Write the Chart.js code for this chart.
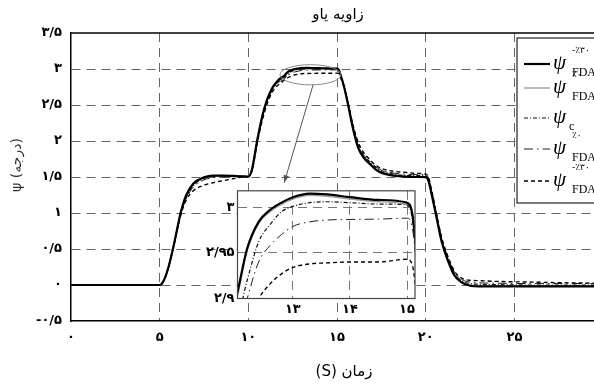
<!DOCTYPE html>
<html><head><meta charset="utf-8">
<script src="https://cdn.jsdelivr.net/npm/chart.js@4"></script>
<style>
html,body{margin:0;padding:0;background:#fff;overflow:hidden;}
#wrap{position:relative;width:620px;height:385px;overflow:hidden;}
#main{position:absolute;left:0;top:0;}
#inset{position:absolute;left:195px;top:180px;}
</style></head><body>
<div id="wrap">
<canvas id="main" width="620" height="385"></canvas>
<canvas id="inset" width="225" height="140"></canvas>
</div>
<script>
// ---- data (time in s, yaw angle in degrees) ----
const times = [0,5,5.1,5.3,5.5,5.8,6.2,6.5,6.9,7.5, 8,8.6,9.2,9.7,10,10.2,10.5,10.8,11.05,11.33, 11.6,11.8,12,12.2,12.4,12.6,12.8,13,13.3,13.6, 14,14.5,15,15.1,15.2,15.4,15.65,15.9,16.2,16.5, 16.85,17.2,17.6,18.2,18.8,19.5,20,20.15,20.35,20.6, 20.9,21.25,21.6,22,22.5,23,24,26,28,30];
const psiFdaM30Solid = [0,0,0.01,0.1,0.25,0.56,1.02,1.25,1.41,1.495, 1.52,1.52,1.515,1.51,1.505,1.6,2.01,2.36,2.57,2.73, 2.82,2.87,2.9,2.955,2.984,2.997,3.005,3.011,3.015,3.014, 3.011,3.008,3.005,2.99,2.92,2.75,2.47,2.17,1.9,1.77, 1.68,1.6,1.55,1.52,1.505,1.5,1.497,1.45,1.24,0.95, 0.6,0.34,0.14,0.04,-0.01,-0.02,-0.02,-0.02,-0.02,-0.02];
const psiFda0Solid = [0,0,0.01,0.1,0.25,0.56,1.01,1.24,1.4,1.49, 1.515,1.515,1.512,1.508,1.505,1.6,2.0,2.35,2.56,2.72, 2.81,2.865,2.895,2.952,2.982,2.995,3.003,3.009,3.013,3.012, 3.009,3.006,3.003,2.988,2.92,2.75,2.48,2.18,1.91,1.78, 1.69,1.61,1.56,1.525,1.51,1.505,1.5,1.455,1.25,0.96, 0.61,0.35,0.15,0.045,0,-0.01,-0.01,-0.01,-0.01,-0.01];
const psiC = [0,0,0.01,0.1,0.25,0.55,1.0,1.22,1.38,1.48, 1.51,1.515,1.512,1.508,1.505,1.6,2.0,2.34,2.55,2.71, 2.8,2.85,2.87,2.92,2.962,2.981,2.995,3.001,3.005,3.006, 3.005,3.0035,3.0025,2.985,2.92,2.76,2.49,2.2,1.94,1.8, 1.71,1.63,1.58,1.54,1.525,1.52,1.515,1.47,1.27,0.98, 0.63,0.37,0.17,0.06,0.02,0.01,0.005,0,0,0];
const psiFda0DashDot = [0,0,0.01,0.1,0.25,0.55,0.99,1.2,1.36,1.46, 1.49,1.5,1.505,1.505,1.505,1.6,2.0,2.33,2.54,2.7, 2.79,2.83,2.855,2.9,2.94,2.958,2.97,2.979,2.984,2.986, 2.9866,2.987,2.988,2.975,2.91,2.76,2.5,2.21,1.95,1.81, 1.72,1.64,1.59,1.555,1.54,1.535,1.53,1.49,1.29,1.0, 0.65,0.39,0.19,0.08,0.04,0.03,0.025,0.02,0.02,0.02];
const psiFdaM30Dashed = [0,0,0.01,0.1,0.25,0.55,0.98,1.18,1.31,1.385, 1.42,1.45,1.48,1.5,1.505,1.58,1.97,2.3,2.51,2.67, 2.76,2.8,2.84,2.875,2.9,2.916,2.927,2.934,2.938,2.939, 2.94,2.94,2.943,2.935,2.88,2.74,2.5,2.22,1.98,1.84, 1.74,1.66,1.61,1.58,1.565,1.55,1.54,1.5,1.3,1.0, 0.66,0.4,0.2,0.1,0.065,0.06,0.05,0.04,0.03,0.025];

const legendSup = ['-٪۳۰','٪۰','','٪۰','-٪۳۰'];
const legendSub = ['FDA','FDA','c','FDA','FDA'];

const xTicks = [0,5,10,15,20,25,30];
const xTickLabels = ['۰','۵','۱۰','۱۵','۲۰','۲۵','۳۰'];
const yTicks = [-0.5,0,0.5,1,1.5,2,2.5,3,3.5];
const yTickLabels = ['-۰/۵','۰','۰/۵','۱','۱/۵','۲','۲/۵','۳','۳/۵'];
const insetXTicks = [13,14,15];
const insetXTickLabels = ['۱۳','۱۴','۱۵'];
const insetYTicks = [2.9,2.95,3];
const insetYTickLabels = ['۲/۹','۲/۹۵','۳'];

const chartTitle = 'زاویه یاو';
const xTitle = 'زمان (S)';
const yTitle = 'ψ (درجه)';

// zoom annotation (data units)
const zoomEllipse = {x: 13.5, y: 2.92, rx: 1.72, ry: 0.14};
const zoomArrow = {x0: 13.65, y0: 2.78, x1: 12.02, y1: 1.42};

const pts = arr => arr.map((v,i)=>({x: times[i], y: v}));
const tickFont = {family:'DejaVu Sans', size:13, weight:'bold'};

function makeDatasets(clip){
  return [
    {label:'psiFdaM30Solid', data:pts(psiFdaM30Solid), borderColor:'#000', borderWidth:2.2, borderDash:[], order:0},
    {label:'psiFda0Solid', data:pts(psiFda0Solid), borderColor:'#9a9a9a', borderWidth:1.3, borderDash:[], order:4},
    {label:'psiC', data:pts(psiC), borderColor:'#111', borderWidth:1.2, borderDash:[4,2,1,2], order:2},
    {label:'psiFda0DashDot', data:pts(psiFda0DashDot), borderColor:'#222', borderWidth:1.0, borderDash:[9,4,1.5,4], order:3},
    {label:'psiFdaM30Dashed', data:pts(psiFdaM30Dashed), borderColor:'#000', borderWidth:1.4, borderDash:[4,3], order:1}
  ].map(d=>Object.assign(d,{pointRadius:0, fill:false, cubicInterpolationMode:'monotone', clip:clip}));
}

const mainDecor = {
  id:'mainDecor',
  afterDatasetsDraw(chart){
    const ctx = chart.ctx, xs = chart.scales.x, ys = chart.scales.y, a = chart.chartArea;
    ctx.save();
    ctx.strokeStyle = '#000'; ctx.lineWidth = 1.5;
    ctx.beginPath(); ctx.moveTo(a.left, a.top); ctx.lineTo(a.right, a.top); ctx.stroke();
    const cx = xs.getPixelForValue(zoomEllipse.x), cy = ys.getPixelForValue(zoomEllipse.y);
    const rx = xs.getPixelForValue(zoomEllipse.x + zoomEllipse.rx) - cx;
    const ry = cy - ys.getPixelForValue(zoomEllipse.y + zoomEllipse.ry);
    ctx.strokeStyle = '#8a8a8a'; ctx.lineWidth = 1;
    ctx.beginPath(); ctx.ellipse(cx, cy, rx, ry, 0, 0, Math.PI*2); ctx.stroke();
    const x0 = xs.getPixelForValue(zoomArrow.x0), y0 = ys.getPixelForValue(zoomArrow.y0);
    const x1 = xs.getPixelForValue(zoomArrow.x1), y1 = ys.getPixelForValue(zoomArrow.y1);
    ctx.strokeStyle = '#555';
    ctx.beginPath(); ctx.moveTo(x0,y0); ctx.lineTo(x1,y1); ctx.stroke();
    const ang = Math.atan2(y1-y0, x1-x0), L = 8, W = 0.35;
    ctx.fillStyle = '#555';
    ctx.beginPath(); ctx.moveTo(x1,y1);
    ctx.lineTo(x1 - L*Math.cos(ang-W), y1 - L*Math.sin(ang-W));
    ctx.lineTo(x1 - L*Math.cos(ang+W), y1 - L*Math.sin(ang+W));
    ctx.closePath(); ctx.fill();
    ctx.restore();
  },
  afterDraw(chart){
    const ctx = chart.ctx;
    ctx.save();
    ctx.fillStyle = '#000';
    ctx.direction = 'rtl';
    ctx.textAlign = 'center'; ctx.textBaseline = 'middle';
    ctx.font = '15px "DejaVu Sans"';
    ctx.fillText(chartTitle, 338, 15);
    ctx.fillText(xTitle, 344, 372);
    ctx.direction = 'ltr';
    ctx.save();
    ctx.translate(17, 165); ctx.rotate(-Math.PI/2);
    ctx.fillStyle = '#333';
    ctx.font = '14px "DejaVu Sans"';
    ctx.fillText(yTitle, 0, 0);
    ctx.restore();
    // legend
    const bx = 517, by = 38, bw = 120, bh = 165;
    ctx.fillStyle = '#fff'; ctx.fillRect(bx, by, bw, bh);
    ctx.strokeStyle = '#222'; ctx.lineWidth = 1.2; ctx.strokeRect(bx, by, bw, bh);
    const rowY = [64, 88, 118, 149, 181];
    [0,1,2,3,4].forEach((di, k) => {
      const ds = chart.data.datasets[di];
      const y = rowY[k];
      ctx.strokeStyle = ds.borderColor; ctx.lineWidth = ds.borderWidth;
      ctx.setLineDash(ds.borderDash || []);
      ctx.beginPath(); ctx.moveTo(524, y); ctx.lineTo(550, y); ctx.stroke();
      ctx.setLineDash([]);
      ctx.fillStyle = '#000';
      ctx.textAlign = 'left'; ctx.textBaseline = 'middle';
      ctx.font = 'italic 21px "Liberation Serif"';
      ctx.fillText('ψ', 553, y - 1);
      if (legendSup[k]) { ctx.font = '9px "DejaVu Sans"'; ctx.fillText(legendSup[k], 572, y - 13); }
      ctx.font = '12px "Liberation Serif"';
      if (legendSub[k] === 'c') ctx.fillText(legendSub[k], 569, y + 9);
      else ctx.fillText(legendSub[k], 572, y + 9);
    });
    ctx.restore();
  }
};

new Chart(document.getElementById('main'), {
  type:'line',
  data:{datasets: makeDatasets(false)},
  options:{
    responsive:false, animation:false, devicePixelRatio:1,
    layout:{padding:{top:33, right:4, left:0, bottom:0}},
    plugins:{legend:{display:false}, tooltip:{enabled:false}, title:{display:false}},
    scales:{
      x:{type:'linear', min:0, max:30,
        afterBuildTicks:s=>{s.ticks = xTicks.map(v=>({value:v}));},
        afterFit:s=>{s.height = 64;},
        ticks:{callback:v=>xTickLabels[xTicks.indexOf(v)], font:tickFont, color:'#000', padding:9, maxRotation:0, autoSkip:false},
        grid:{color:c=>(c.tick && (c.tick.value===0 || c.tick.value===30)) ? 'rgba(0,0,0,0)' : '#666', lineWidth:1, drawTicks:false},
        border:{display:true, color:'#000', width:1.5, dash:[9,6]}
      },
      y:{type:'linear', min:-0.5, max:3.5,
        afterBuildTicks:s=>{s.ticks = yTicks.map(v=>({value:v}));},
        afterFit:s=>{s.width = 71;},
        ticks:{callback:v=>yTickLabels[yTicks.indexOf(v)], font:tickFont, color:'#000', padding:9, autoSkip:false},
        grid:{color:c=>(c.tick && (c.tick.value===-0.5 || c.tick.value===3.5)) ? 'rgba(0,0,0,0)' : '#666', lineWidth:1, drawTicks:false},
        border:{display:true, color:'#000', width:1.5, dash:[9,6]}
      }
    }
  },
  plugins:[mainDecor]
});

const insetDecor = {
  id:'insetDecor',
  beforeDraw(chart){
    const a = chart.chartArea, ctx = chart.ctx;
    ctx.save(); ctx.fillStyle = '#fff'; ctx.fillRect(a.left, a.top, a.right-a.left, a.bottom-a.top); ctx.restore();
  },
  afterDraw(chart){
    const a = chart.chartArea, ctx = chart.ctx;
    ctx.save(); ctx.strokeStyle = '#444'; ctx.lineWidth = 1.2;
    ctx.strokeRect(a.left, a.top, a.right-a.left, a.bottom-a.top); ctx.restore();
  }
};

new Chart(document.getElementById('inset'), {
  type:'line',
  data:{datasets: makeDatasets(0)},
  options:{
    responsive:false, animation:false, devicePixelRatio:1,
    layout:{padding:{top:6, right:5, left:0, bottom:0}},
    plugins:{legend:{display:false}, tooltip:{enabled:false}, title:{display:false}},
    scales:{
      x:{type:'linear', min:12.03, max:15.14,
        afterBuildTicks:s=>{s.ticks = insetXTicks.map(v=>({value:v}));},
        afterFit:s=>{s.height = 21.5;},
        ticks:{callback:v=>insetXTickLabels[insetXTicks.indexOf(v)], font:tickFont, color:'#000', padding:3, maxRotation:0, autoSkip:false},
        grid:{color:'#777', lineWidth:1, drawTicks:false},
        border:{display:false, dash:[9,6]}
      },
      y:{type:'linear', min:2.9, max:3.018,
        afterBuildTicks:s=>{s.ticks = insetYTicks.map(v=>({value:v}));},
        afterFit:s=>{s.width = 42.5;},
        ticks:{callback:v=>insetYTickLabels[insetYTicks.indexOf(v)], font:tickFont, color:'#000', padding:3, autoSkip:false},
        grid:{color:c=>(c.tick && c.tick.value===2.9) ? 'rgba(0,0,0,0)' : '#777', lineWidth:1, drawTicks:false},
        border:{display:false, dash:[9,6]}
      }
    }
  },
  plugins:[insetDecor]
});
</script>
</body></html>
